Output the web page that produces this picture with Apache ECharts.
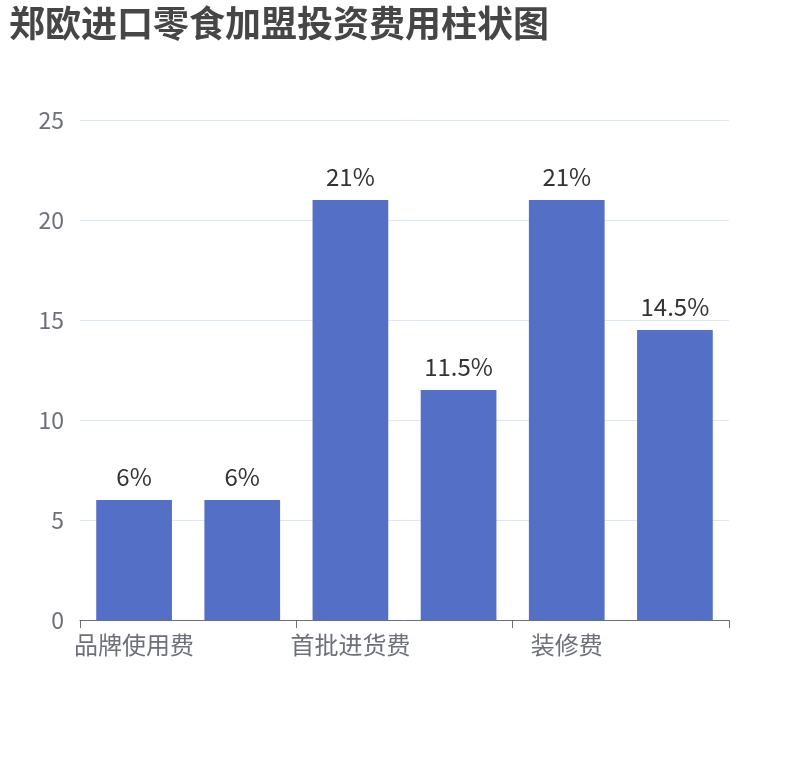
<!DOCTYPE html>
<html>
<head>
<meta charset="utf-8">
<script src="https://cdn.jsdelivr.net/npm/echarts@6/dist/echarts.min.js"></script>
<style>
  html, body { margin: 0; padding: 0; background: #fff; }
  #main { width: 810px; height: 760px; }
</style>
</head>
<body>
<div id="main"></div>
<script>
var categories = ['品牌使用费', '加盟保证金', '首批进货费', '设备采购费', '装修费', '流动资金'];
var values = [6, 6, 21, 11.5, 21, 14.5];
var yTicks = { min: 0, max: 25, interval: 5 };

var myChart = echarts.init(document.getElementById('main'));
var font = '"Noto Sans CJK SC", "Noto Sans", sans-serif';

var option = {
    title: {
        text: '郑欧进口零食加盟投资费用柱状图',
        left: 4,
        top: 0,
        textStyle: {
            fontSize: 36,
            fontWeight: 'bold',
            color: '#464646',
            fontFamily: font
        }
    },
    grid: {
        left: 80,
        right: 81,
        top: 120,
        bottom: 140
    },
    xAxis: {
        type: 'category',
        data: categories,
        axisTick: { show: true, length: 8 },
        axisLabel: {
            fontSize: 24,
            color: '#6e7079',
            fontFamily: font,
            margin: 13
        },
        axisLine: { lineStyle: { color: '#6e7079' } }
    },
    yAxis: {
        type: 'value',
        min: yTicks.min,
        max: yTicks.max,
        interval: yTicks.interval,
        axisLabel: {
            fontSize: 23,
            color: '#6e7079',
            fontFamily: font,
            margin: 16,
            padding: [0, 0, 4, 0]
        },
        splitLine: { lineStyle: { color: '#e0e6f1' } }
    },
    series: [{
        type: 'bar',
        data: values,
        barWidth: '70%',
        itemStyle: { color: '#5470c6' },
        label: {
            show: true,
            position: 'top',
            distance: 11,
            formatter: '{c}%',
            fontSize: 24,
            color: '#333',
            fontFamily: font
        }
    }]
};

myChart.setOption(option);
</script>
</body>
</html>
